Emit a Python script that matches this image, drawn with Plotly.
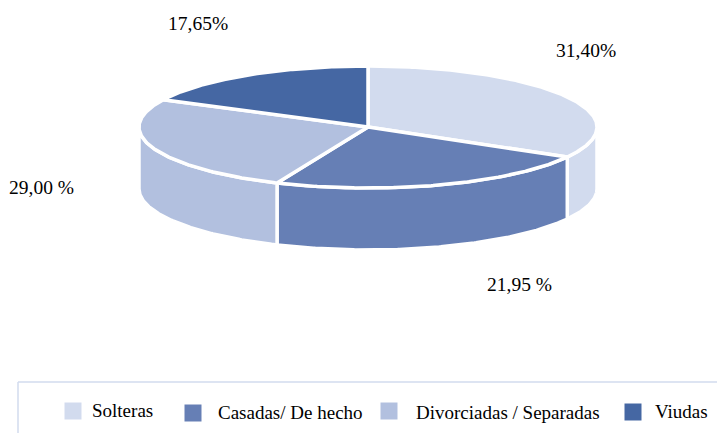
import numpy as np
import plotly.graph_objects as go

categories = ["Solteras", "Casadas/ De hecho", "Divorciadas / Separadas", "Viudas"]
printed_labels = ["31,40%", "21,95 %", "29,00 %", "17,65%"]
# Sweep of each slice as it is actually drawn in the picture (%), read from the
# slice boundaries; the source's 3D rendering differs a little from the printed values.
drawn_shares = [33.2, 23.3, 25.9, 17.6]
colors = ["#D2DBEE", "#667FB5", "#B2C0DF", "#4567A3"]

CX, CY, RX, RY, DEPTH = 368, 127, 229, 61, 62
FONT = "Liberation Serif"
label_xy = [(586, 50), (519, 284), (41, 187), (198, 23)]
swatch_xy = [(73, 411), (193, 413), (389, 411), (633, 412)]
legend_text_x = [90, 216, 414, 653]
legend_text_y = [410, 412, 412, 411]


def pt(deg, dy=0.0):
    r = np.radians(deg)
    return CX + RX * np.sin(r), CY - RY * np.cos(r) + dy


def arc(a0, a1, dy=0.0):
    t = np.linspace(a0, a1, max(3, int(abs(a1 - a0) * 2)))
    return pt(t, dy)


edges = np.concatenate([[0], np.cumsum(drawn_shares) / np.sum(drawn_shares) * 360])
fig = go.Figure()

# side walls (only the front half of the rim, 90..270 degrees, is visible)
for i, c in enumerate(colors):
    a0, a1 = max(edges[i], 90), min(edges[i + 1], 270)
    if a1 <= a0:
        continue
    xt, yt = arc(a0, a1)
    xb, yb = arc(a1, a0, DEPTH)
    fig.add_trace(go.Scatter(
        x=np.r_[xt, xb, xt[0]], y=np.r_[yt, yb, yt[0]], mode="lines", fill="toself",
        fillcolor=c, line=dict(color="white", width=3.5), hoverinfo="skip", showlegend=False))

# top faces
for i, c in enumerate(colors):
    xa, ya = arc(edges[i], edges[i + 1])
    fig.add_trace(go.Scatter(
        x=np.r_[CX, xa, CX], y=np.r_[CY, ya, CY], mode="lines", fill="toself",
        fillcolor=c, line=dict(color="white", width=3.5), name=categories[i], showlegend=False))

# legend swatches
for (sx, sy), c, name in zip(swatch_xy, colors, categories):
    fig.add_trace(go.Scatter(
        x=[sx], y=[sy], mode="markers", name=name, showlegend=False,
        marker=dict(symbol="square", size=17, color=c, line=dict(width=0))))

for (lx, ly), t in zip(label_xy, printed_labels):
    fig.add_annotation(x=lx, y=ly, text=t, showarrow=False, xanchor="center", yanchor="middle",
                       font=dict(family=FONT, size=19.5, color="#000000"))
for tx, ty, t in zip(legend_text_x, legend_text_y, categories):
    fig.add_annotation(x=tx, y=ty, text=t, showarrow=False, xanchor="left", yanchor="middle",
                       font=dict(family=FONT, size=19, color="#000000"))

# legend frame: top and left edges
border = dict(color="#D2DBEE", width=1.5)
fig.add_shape(type="line", x0=18, x1=717, y0=382, y1=382, line=border)
fig.add_shape(type="line", x0=18, x1=18, y0=382, y1=433, line=border)

fig.update_layout(
    width=717, height=433, autosize=False, margin=dict(l=0, r=0, t=0, b=0),
    paper_bgcolor="white", plot_bgcolor="white", showlegend=False,
    xaxis=dict(visible=False, range=[0, 717], fixedrange=True),
    yaxis=dict(visible=False, range=[433, 0], fixedrange=True),
)
fig.write_html(
    "out.html",
    config={"displayModeBar": False},
    post_script="document.body.style.margin='0';document.documentElement.style.overflow='hidden';",
)
